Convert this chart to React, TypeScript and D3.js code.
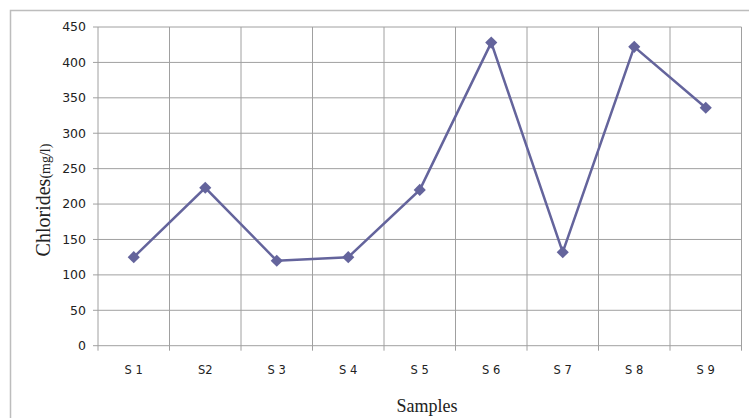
import React from "react";
import * as d3 from "d3";

const categories = ["S 1", "S2", "S 3", "S 4", "S 5", "S 6", "S 7", "S 8", "S 9"];
const values = [125, 223, 120, 125, 220, 428, 132, 422, 336];
const yTicks = [0, 50, 100, 150, 200, 250, 300, 350, 400, 450];

export default function App() {
  const W = 749, H = 418;
  const left = 98, right = 741.5, top = 27, bottom = 345.7;
  const x = d3.scaleBand<string>().domain(categories).range([left, right]).padding(0);
  const y = d3.scaleLinear().domain([0, 450]).range([bottom, top]);
  const line = d3.line<number>()
    .x((_, i) => (x(categories[i]) as number) + x.bandwidth() / 2)
    .y((d) => y(d));
  const sym = d3.symbol().type(d3.symbolSquare).size(74)();
  const boundaries = categories.map((c) => x(c) as number).concat([right]);
  const grid = "#a0a0a0";
  return (
    <svg width={W} height={H} style={{ position: "absolute", left: 0, top: 0, background: "#fff" }}>
      <rect x={10.5} y={10.5} width={W + 10} height={H + 10} fill="#fff" stroke="#bdbdbd" strokeWidth={1.5} />
      {yTicks.map((t) => (
        <g key={t}>
          <line x1={left - 5} x2={right} y1={y(t)} y2={y(t)} stroke={grid} strokeWidth={1} />
          <text x={86} y={y(t)} dy="0.35em" textAnchor="end" fontFamily="DejaVu Sans" fontSize={12.5} fill="#222">{t}</text>
        </g>
      ))}
      {boundaries.map((b, i) => (
        <line key={i} x1={b} x2={b} y1={top} y2={bottom + 5} stroke={grid} strokeWidth={1} />
      ))}
      {categories.map((c) => (
        <text key={c} x={(x(c) as number) + x.bandwidth() / 2} y={370} dy="0.35em" textAnchor="middle" fontFamily="DejaVu Sans" fontSize={11.5} fill="#222">{c}</text>
      ))}
      <path d={line(values) as string} fill="none" stroke="#64649c" strokeWidth={2.5} />
      {values.map((v, i) => (
        <path key={i} d={sym as string} transform={`translate(${(x(categories[i]) as number) + x.bandwidth() / 2},${y(v)}) rotate(45)`} fill="#64649c" />
      ))}
      <text transform="translate(50,200) rotate(-90)" textAnchor="middle" fontFamily="Liberation Serif" fill="#222">
        <tspan fontSize={20}>Chlorides</tspan><tspan fontSize={14}>(mg/l)</tspan>
      </text>
      <text x={427} y={412} textAnchor="middle" fontFamily="Liberation Serif" fontSize={18} fill="#222">Samples</text>
    </svg>
  );
}
